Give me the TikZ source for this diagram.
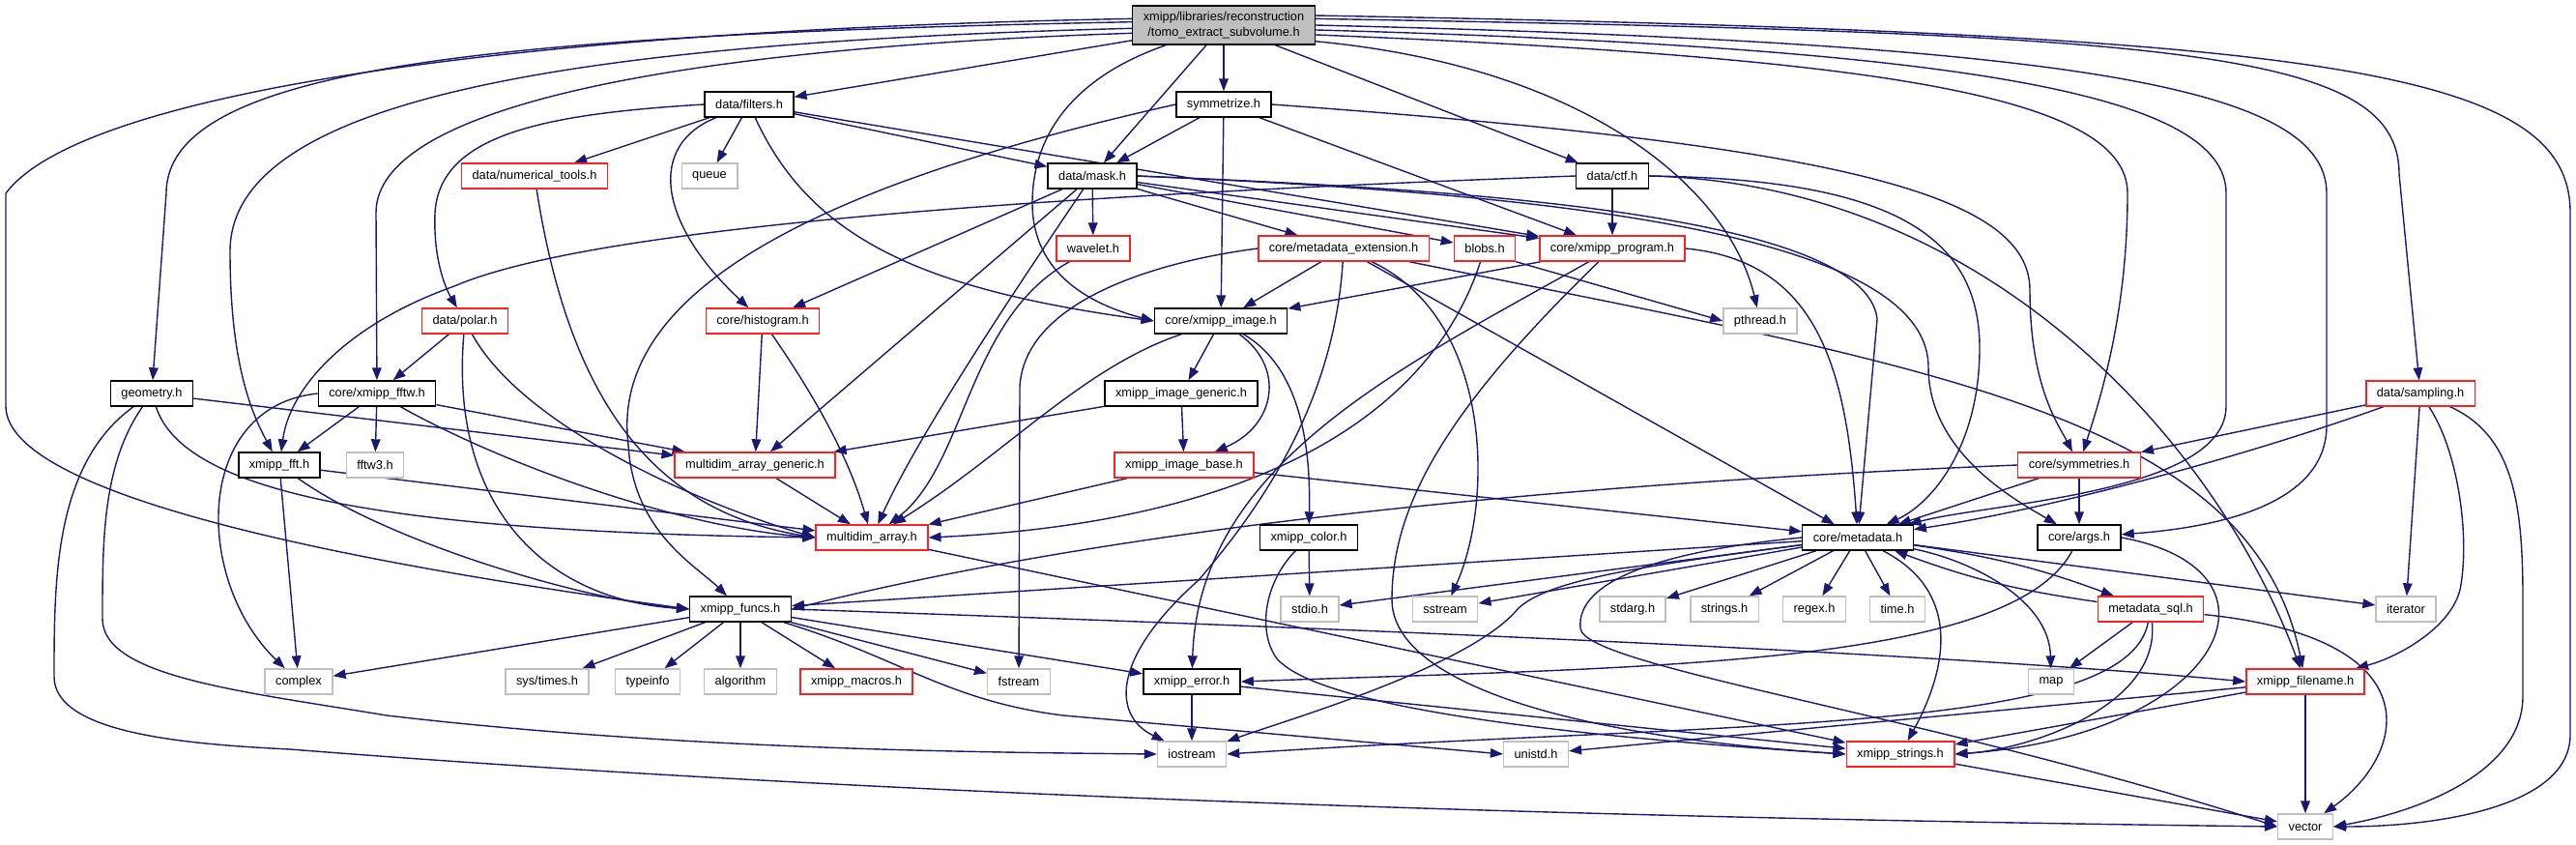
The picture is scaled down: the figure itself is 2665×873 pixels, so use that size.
\documentclass[tikz,border=0pt]{standalone}
\usepackage{fontspec}
\setmainfont{Liberation Sans}
\usetikzlibrary{arrows.meta,backgrounds}
\definecolor{EdgeBlue}{HTML}{191970}
\definecolor{BoxRed}{HTML}{FF2020}
\definecolor{BoxGray}{HTML}{BFBFBF}

\tikzset{
  hdr/.style={draw=black, line width=0.7pt, fill=white, inner xsep=5.5pt, inner ysep=0pt,
    minimum height=13pt, font=\fontsize{6.4}{7.7}\selectfont},
  hdrred/.style={hdr, draw=BoxRed},
  hdrsys/.style={hdr, draw=BoxGray},
  hdrtop/.style={hdr, fill=BoxGray, align=center, minimum height=20pt, font=\fontsize{6.4}{8}\selectfont},
  inc/.style={draw=EdgeBlue, line width=0.7pt, -{Triangle[length=6.5pt,width=4.8pt]}},
}

\begin{document}
\begin{tikzpicture}[x=0.5pt, y=-0.5pt]
  \useasboundingbox (0,0) rectangle (2665,873);

  % headers, row by row
  \node[hdrtop] (top) at (1266,26) {xmipp/libraries/reconstruction\\/tomo\_extract\_subvolume.h};
  \node[hdr] (filters) at (775,108) {data/filters.h};
  \node[hdr] (symmetrize) at (1266,108) {symmetrize.h};
  \node[hdrred] (numtools) at (553,182) {data/numerical\_tools.h};
  \node[hdrsys] (queue) at (734,182) {queue};
  \node[hdr] (mask) at (1130,182) {data/mask.h};
  \node[hdr] (ctf) at (1668,182) {data/ctf.h};
  \node[hdrred] (wavelet) at (1131,257) {wavelet.h};
  \node[hdrred] (mdext) at (1390,257) {core/metadata\_extension.h};
  \node[hdrred] (blobs) at (1536,257) {blobs.h};
  \node[hdrred] (program) at (1668,257) {core/xmipp\_program.h};
  \node[hdrred] (polar) at (481,332) {data/polar.h};
  \node[hdrred] (histogram) at (789,332) {core/histogram.h};
  \node[hdr] (image) at (1263,332) {core/xmipp\_image.h};
  \node[hdrsys] (pthread) at (1821,332) {pthread.h};
  \node[hdr] (geometry) at (157,407) {geometry.h};
  \node[hdr] (fftw) at (390,407) {core/xmipp\_fftw.h};
  \node[hdr] (imggen) at (1222,407) {xmipp\_image\_generic.h};
  \node[hdrred] (sampling) at (2504,407) {data/sampling.h};
  \node[hdr] (fft) at (289,481) {xmipp\_fft.h};
  \node[hdrsys] (fftw3) at (388,481) {fftw3.h};
  \node[hdrred] (mdagen) at (781,481) {multidim\_array\_generic.h};
  \node[hdrred] (imgbase) at (1225,481) {xmipp\_image\_base.h};
  \node[hdrred] (symmetries) at (2151,481) {core/symmetries.h};
  \node[hdrred] (mda) at (902,556) {multidim\_array.h};
  \node[hdr] (color) at (1354,556) {xmipp\_color.h};
  \node[hdr] (metadata) at (1922,556) {core/metadata.h};
  \node[hdr] (args) at (2151,556) {core/args.h};
  \node[hdr] (funcs) at (766,630) {xmipp\_funcs.h};
  \node[hdrsys] (stdio) at (1355,630) {stdio.h};
  \node[hdrsys] (sstream) at (1495,630) {sstream};
  \node[hdrsys] (stdarg) at (1689,630) {stdarg.h};
  \node[hdrsys] (strings) at (1784,630) {strings.h};
  \node[hdrsys] (regex) at (1877,630) {regex.h};
  \node[hdrsys] (time) at (1963,630) {time.h};
  \node[hdrred] (mdsql) at (2225,630) {metadata\_sql.h};
  \node[hdrsys] (iterator) at (2489,630) {iterator};
  \node[hdrsys] (complex) at (309,705) {complex};
  \node[hdrsys] (systimes) at (566,705) {sys/times.h};
  \node[hdrsys] (typeinfo) at (670,705) {typeinfo};
  \node[hdrsys] (algorithm) at (766,705) {algorithm};
  \node[hdrred] (macros) at (886,705) {xmipp\_macros.h};
  \node[hdrsys] (fstream) at (1054,705) {fstream};
  \node[hdr] (error) at (1233,705) {xmipp\_error.h};
  \node[hdrsys] (map) at (2122,705) {map};
  \node[hdrred] (filename) at (2385,705) {xmipp\_filename.h};
  \node[hdrsys] (iostream) at (1233,780) {iostream};
  \node[hdrsys] (unistd) at (1589,780) {unistd.h};
  \node[hdrred] (strs) at (1966,780) {xmipp\_strings.h};
  \node[hdrsys] (vector) at (2385,855) {vector};

  \begin{scope}[on background layer]
  % includes of the subvolume header
  \draw[inc] (top.176) .. controls (500,32) and (80,100) .. (6,200) -- (6,420) .. controls (6,520) and (420,590) .. (funcs.west);
  \draw[inc] (top.178) .. controls (500,36) and (172,70) .. (172,200) -- (geometry);
  \draw[inc] (top.182) .. controls (600,44) and (238,100) .. (238,260) .. controls (238,380) and (262,430) .. (fft);
  \draw[inc] (top.185) .. controls (700,50) and (389,110) .. (389,220) -- (fftw);
  \draw[inc] (top) -- (filters);
  \draw[inc] (top) -- (mask);
  \draw[inc] (top) -- (symmetrize);
  \draw[inc] (top) .. controls (1110,80) and (1068,140) .. (1068,210) .. controls (1068,290) and (1140,318) .. (image.west);
  \draw[inc] (top) -- (ctf);
  \draw[inc] (top.-10) .. controls (1650,70) and (1790,200) .. (pthread);
  \draw[inc] (top.-6) .. controls (1950,60) and (2201,100) .. (2201,200) .. controls (2201,330) and (2170,420) .. (symmetries);
  \draw[inc] (top.-3) .. controls (2050,50) and (2303,100) .. (2303,200) -- (2303,420) .. controls (2303,510) and (2060,520) .. (metadata);
  \draw[inc] (top.0) .. controls (2150,45) and (2407,90) .. (2407,200) -- (2407,440) .. controls (2407,520) and (2300,545) .. (args);
  \draw[inc] (top.4) .. controls (2250,35) and (2482,50) .. (2482,180) -- (sampling);
  \draw[inc] (top.6) .. controls (2400,35) and (2659,70) .. (2659,220) -- (2659,760) .. controls (2659,835) and (2520,855) .. (vector);

  % data/filters.h
  \draw[inc] (filters) -- (numtools);
  \draw[inc] (filters) -- (queue);
  \draw[inc] (filters.west) .. controls (560,118) and (455,140) .. (450,220) .. controls (448,270) and (462,300) .. (polar);
  \draw[inc] (filters) .. controls (670,150) and (680,230) .. (histogram);
  \draw[inc] (filters) .. controls (840,250) and (960,300) .. (image.west);
  \draw[inc] (filters) -- (mask);
  \draw[inc] (filters) -- (program);

  % symmetrize.h
  \draw[inc] (symmetrize) -- (mask);
  \draw[inc] (symmetrize) -- (image);
  \draw[inc] (symmetrize) -- (program);
  \draw[inc] (symmetrize.east) .. controls (1900,150) and (2100,200) .. (2100,300) .. controls (2100,400) and (2130,440) .. (symmetries);
  \draw[inc] (symmetrize.west) .. controls (850,190) and (630,300) .. (650,460) .. controls (655,550) and (720,585) .. (funcs);

  % data/ctf.h
  \draw[inc] (ctf.west) .. controls (1000,205) and (600,240) .. (470,296) .. controls (360,335) and (300,400) .. (fft);
  \draw[inc] (ctf) -- (program);
  \draw[inc] (ctf.east) .. controls (1950,185) and (2048,240) .. (2048,360) .. controls (2048,460) and (2000,520) .. (metadata);
  \draw[inc] (ctf.east) .. controls (2050,190) and (2290,450) .. (filename);

  % data/mask.h
  \draw[inc] (mask) -- (wavelet);
  \draw[inc] (mask) -- (mdext);
  \draw[inc] (mask) -- (blobs);
  \draw[inc] (mask) -- (program);
  \draw[inc] (mask) -- (histogram);
  \draw[inc] (mask) -- (mdagen);
  \draw[inc] (mask) .. controls (1050,300) and (950,450) .. (mda);
  \draw[inc] (mask.east) .. controls (1500,195) and (1930,220) .. (1942,330) -- (metadata);
  \draw[inc] (mask.east) .. controls (1600,200) and (1995,240) .. (1995,380) .. controls (1995,470) and (2090,520) .. (args);

  % second row of includes
  \draw[inc] (wavelet) .. controls (1000,330) and (1000,480) .. (mda);
  \draw[inc] (mdext) -- (image);
  \draw[inc] (mdext.west) .. controls (1200,270) and (1060,310) .. (1055,400) -- (fstream);
  \draw[inc] (mdext) .. controls (1380,420) and (1300,530) .. (1240,600) .. controls (1150,680) and (1150,740) .. (iostream);
  \draw[inc] (mdext) .. controls (1545,330) and (1545,520) .. (sstream);
  \draw[inc] (mdext) -- (metadata);
  \draw[inc] (mdext) .. controls (2000,380) and (2330,430) .. (filename);
  \draw[inc] (blobs) .. controls (1480,430) and (1300,540) .. (mda.east);
  \draw[inc] (blobs.south east) -- (pthread.west);
  \draw[inc] (program) -- (image);
  \draw[inc] (program.east) .. controls (1880,270) and (1910,380) .. (metadata);
  \draw[inc] (program) .. controls (1450,380) and (1240,480) .. (error);
  \draw[inc] (program) .. controls (1500,420) and (1440,520) .. (1440,620) .. controls (1440,700) and (1600,760) .. (strs.west);

  % images and arrays
  \draw[inc] (image) -- (imggen);
  \draw[inc] (image) .. controls (1330,380) and (1320,440) .. (imgbase);
  \draw[inc] (image) .. controls (1120,380) and (1040,470) .. (mda);
  \draw[inc] (image) .. controls (1345,380) and (1356,460) .. (color);
  \draw[inc] (imggen) -- (mdagen);
  \draw[inc] (imggen) -- (imgbase);
  \draw[inc] (imgbase) -- (mda);
  \draw[inc] (imgbase) -- (metadata);
  \draw[inc] (histogram) -- (mdagen);
  \draw[inc] (histogram) .. controls (850,420) and (880,480) .. (mda);
  \draw[inc] (numtools) .. controls (590,420) and (680,530) .. (mda.west);
  \draw[inc] (mdagen) -- (mda);
  \draw[inc] (mda) -- (strs);

  % polar, fft, geometry
  \draw[inc] (polar) -- (fftw);
  \draw[inc] (polar) .. controls (540,440) and (720,520) .. (mda.west);
  \draw[inc] (polar) .. controls (465,520) and (560,620) .. (funcs.west);
  \draw[inc] (fftw) -- (fft);
  \draw[inc] (fftw) -- (fftw3);
  \draw[inc] (fftw) -- (mdagen);
  \draw[inc] (fftw) .. controls (520,480) and (700,545) .. (mda.west);
  \draw[inc] (fftw.west) .. controls (200,420) and (200,600) .. (complex);
  \draw[inc] (fft) -- (complex);
  \draw[inc] (fft) -- (mda);
  \draw[inc] (fft) .. controls (400,560) and (600,620) .. (funcs.west);
  \draw[inc] (geometry) -- (mdagen);
  \draw[inc] (geometry) .. controls (190,510) and (400,550) .. (mda.west);
  \draw[inc] (geometry) .. controls (106,480) and (106,560) .. (106,640) .. controls (106,700) and (250,715) .. (400,740) .. controls (700,775) and (1000,778) .. (iostream.west);
  \draw[inc] (geometry) .. controls (56,480) and (56,600) .. (56,700) .. controls (56,760) and (200,770) .. (300,775) .. controls (1000,830) and (1800,848) .. (vector.west);

  % xmipp_funcs.h
  \draw[inc] (funcs) -- (complex);
  \draw[inc] (funcs) -- (systimes);
  \draw[inc] (funcs) -- (typeinfo);
  \draw[inc] (funcs) -- (algorithm);
  \draw[inc] (funcs) -- (macros);
  \draw[inc] (funcs) -- (fstream);
  \draw[inc] (funcs) -- (error);
  \draw[inc] (funcs) .. controls (930,680) and (980,725) .. (1100,740) -- (unistd.west);
  \draw[inc] (funcs.east) .. controls (1400,650) and (2000,675) .. (filename.west);

  % color, error
  \draw[inc] (color) -- (stdio);
  \draw[inc] (color) .. controls (1310,600) and (1300,650) .. (1320,680) .. controls (1360,730) and (1600,760) .. (strs.west);
  \draw[inc] (error) -- (iostream);
  \draw[inc] (error) -- (strs);

  % sampling, symmetries, args
  \draw[inc] (sampling) -- (symmetries);
  \draw[inc] (sampling) .. controls (2300,480) and (2100,530) .. (metadata);
  \draw[inc] (sampling) -- (iterator);
  \draw[inc] (sampling) .. controls (2545,470) and (2555,560) .. (2545,610) .. controls (2535,650) and (2480,680) .. (filename);
  \draw[inc] (sampling) .. controls (2600,450) and (2610,520) .. (2610,620) -- (2610,720) .. controls (2610,800) and (2500,840) .. (vector.east);
  \draw[inc] (symmetries) -- (metadata);
  \draw[inc] (symmetries) -- (args);
  \draw[inc] (symmetries.west) .. controls (1500,505) and (1100,560) .. (funcs.east);
  \draw[inc] (args) .. controls (2080,690) and (1700,690) .. (error.east);
  \draw[inc] (args.east) .. controls (2380,590) and (2300,760) .. (strs.east);

  % core/metadata.h
  \draw[inc] (metadata) -- (funcs);
  \draw[inc] (metadata) .. controls (1700,585) and (1600,600) .. (1570,630) .. controls (1520,690) and (1330,745) .. (iostream);
  \draw[inc] (metadata) -- (stdio);
  \draw[inc] (metadata) -- (sstream);
  \draw[inc] (metadata) -- (stdarg);
  \draw[inc] (metadata) -- (strings);
  \draw[inc] (metadata) -- (regex);
  \draw[inc] (metadata) -- (time);
  \draw[inc] (metadata) .. controls (2040,580) and (2120,620) .. (map);
  \draw[inc] (metadata) -- (iterator);
  \draw[inc] (metadata) .. controls (2035,615) and (2010,700) .. (strs);
  \draw[inc] (metadata) to[bend left=6] (mdsql);
  \draw[inc] (metadata.west) .. controls (1720,570) and (1630,600) .. (1635,650) .. controls (1640,690) and (2000,740) .. (vector.west);

  % metadata_sql.h, xmipp_filename.h, xmipp_strings.h
  \draw[inc] (mdsql) to[bend left=6] (metadata);
  \draw[inc] (mdsql) -- (map);
  \draw[inc] (mdsql) .. controls (2235,730) and (2100,775) .. (strs.east);
  \draw[inc] (mdsql) .. controls (2200,760) and (1800,745) .. (iostream.east);
  \draw[inc] (mdsql) .. controls (2520,660) and (2490,780) .. (vector);
  \draw[inc] (filename) -- (strs);
  \draw[inc] (filename) -- (unistd);
  \draw[inc] (filename) -- (vector);
  \draw[inc] (strs) -- (vector);
  \end{scope}
\end{tikzpicture}
\end{document}
